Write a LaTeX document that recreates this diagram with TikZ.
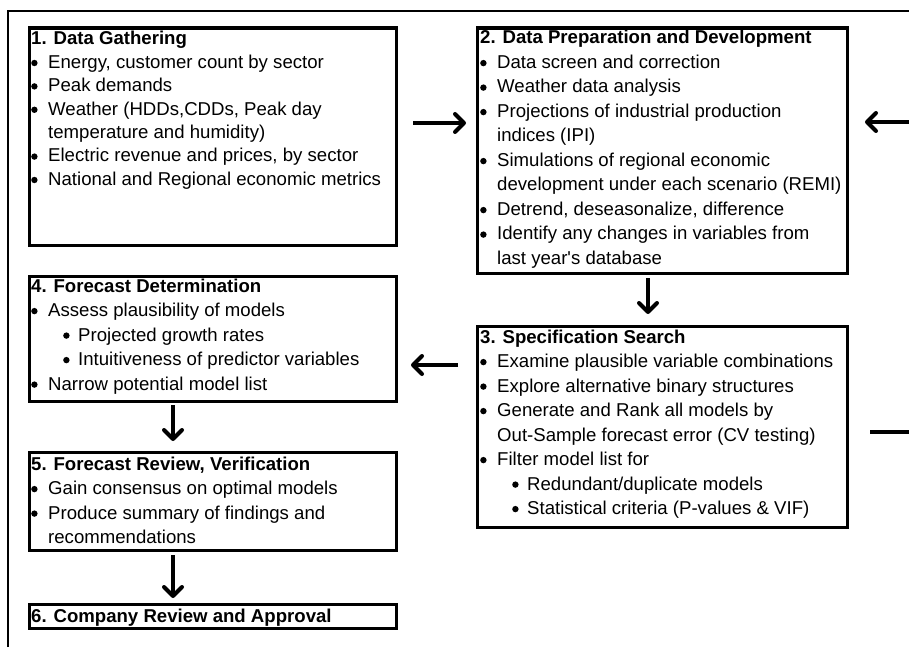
\documentclass[tikz,border=0pt]{standalone}
\usepackage{fontspec}
\setmainfont{Liberation Sans}
\newcommand\dotmark{\tikz[baseline=0pt]\fill[black] (3.2pt,5.4pt) circle[radius=3.2pt];}
\newcommand\mybul{\makebox[17pt][l]{\dotmark}}
\newcommand\myind{\hspace*{17pt}}
\newcommand\mysub{\hspace*{32pt}\makebox[15pt][l]{\dotmark}}
\tikzset{
  box/.style={draw=black, line width=3.2pt, anchor=north west, inner sep=0pt},
  txt/.style={anchor=base west, inner sep=0pt, font=\fontsize{18.6}{24.5}\selectfont},
  txtb/.style={anchor=base west, inner sep=0pt, font=\fontsize{18.6}{23.4}\selectfont},
  frame/.style={draw=black, line width=1.5pt},
  shaft/.style={draw=black, line width=4pt},
  head/.style={draw=black, line width=4pt, line cap=round, line join=round},
  plain/.style={draw=black, line width=4pt}
}
\begin{document}
\begin{tikzpicture}[x=1pt,y=-1pt]
\useasboundingbox (0,0) rectangle (909,647);
\draw[frame] (8,647) -- (8,11) -- (909,11);

% boxes
\node[box, minimum width=367pt, minimum height=217pt] (b1) at (27.5,26.5) {};
\node[box, minimum width=370pt, minimum height=245pt] (b2) at (475.5,26.5) {};
\node[box, minimum width=367pt, minimum height=125pt] (b4) at (27.5,274.5) {};
\node[box, minimum width=370pt, minimum height=201pt] (b3) at (475.5,324.5) {};
\node[box, minimum width=367pt, minimum height=98pt] (b5) at (27.5,450.5) {};
\node[box, minimum width=367pt, minimum height=24pt] (b6) at (27.5,602.5) {};

% texts
\node[txtb] (t1) at (31,45) {\parbox[t]{360pt}{\raggedright
{\bfseries 1. Data Gathering}\\
\mybul Energy, customer count by sector\\
\mybul Peak demands\\
\mybul Weather (HDDs,CDDs, Peak day\\
\myind temperature and humidity)\\
\mybul Electric revenue and prices, by sector\\
\mybul National and Regional economic metrics}};

\node[txt] (t2) at (480,44) {\parbox[t]{365pt}{\raggedright
{\bfseries 2. Data Preparation and Development}\\
\mybul Data screen and correction\\
\mybul Weather data analysis\\
\mybul Projections of industrial production\\
\myind indices (IPI)\\
\mybul Simulations of regional economic\\
\myind development under each scenario (REMI)\\
\mybul Detrend, deseasonalize, difference\\
\mybul Identify any changes in variables from\\
\myind last year\textquotesingle s database}};

\node[txt] (t4) at (31,292) {\parbox[t]{360pt}{\raggedright
{\bfseries 4. Forecast Determination}\\
\mybul Assess plausibility of models\\
\mysub Projected growth rates\\
\mysub Intuitiveness of predictor variables\\
\mybul Narrow potential model list}};

\node[txt] (t3) at (480,343) {\parbox[t]{365pt}{\raggedright
{\bfseries 3. Specification Search}\\
\mybul Examine plausible variable combinations\\
\mybul Explore alternative binary structures\\
\mybul Generate and Rank all models by\\
\myind Out-Sample forecast error (CV testing)\\
\mybul Filter model list for\\
\mysub Redundant/duplicate models\\
\mysub Statistical criteria (P-values \& VIF)}};

\node[txt] (t5) at (31,470) {\parbox[t]{360pt}{\raggedright
{\bfseries 5. Forecast Review, Verification}\\
\mybul Gain consensus on optimal models\\
\mybul Produce summary of findings and\\
\myind recommendations}};

\node[txt] (t6) at (31,622) {\parbox[t]{360pt}{\raggedright
{\bfseries 6. Company Review and Approval}}};

% connector end points
\coordinate (a12s) at (413,123);
\coordinate (a12e) at (464,123);
\coordinate (rins) at (909,122);
\coordinate (rine) at (867,122);
\coordinate (a23s) at (648,278);
\coordinate (a23e) at (648,312);
\coordinate (a34s) at (458,365);
\coordinate (a34e) at (413,365);
\coordinate (routs) at (870,432);
\coordinate (route) at (909,432);
\coordinate (a45s) at (173,405);
\coordinate (a45e) at (173,439);
\coordinate (a56s) at (173,555);
\coordinate (a56e) at (173,596);

% shafts
\draw[shaft] (a12s) -- (a12e);
\draw[shaft] (rins) -- (rine);
\draw[shaft] (a23s) -- (a23e);
\draw[shaft] (a34s) -- (a34e);
\draw[plain] (routs) -- (route);
\draw[shaft] (a45s) -- (a45e);
\draw[shaft] (a56s) -- (a56e);
% heads
\draw[head, shift={(a12e)}] (-9,-9) -- (0,0) -- (-9,9);
\draw[head, shift={(rine)}] (9,-9) -- (0,0) -- (9,9);
\draw[head, shift={(a34e)}] (9,-9) -- (0,0) -- (9,9);
\draw[head, shift={(a23e)}] (-9,-9) -- (0,0) -- (9,-9);
\draw[head, shift={(a45e)}] (-9,-9) -- (0,0) -- (9,-9);
\draw[head, shift={(a56e)}] (-9,-9) -- (0,0) -- (9,-9);
\end{tikzpicture}
\end{document}
